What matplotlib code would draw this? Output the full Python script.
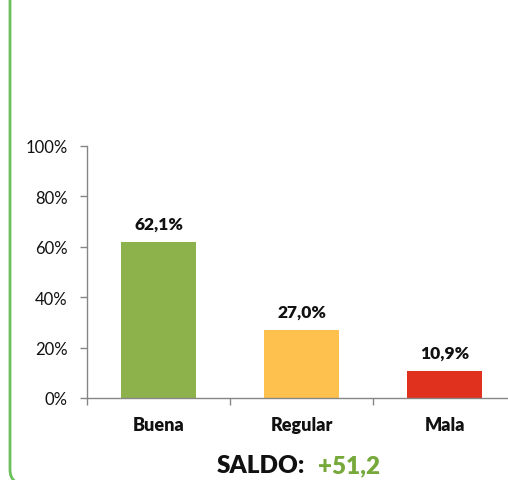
import matplotlib.pyplot as plt
from matplotlib.patches import FancyBboxPatch
from matplotlib.ticker import FixedLocator

plt.rcParams['font.family'] = ['Lato', 'DejaVu Sans']

categorias = ['Buena', 'Regular', 'Mala']
valores = [62.1, 27.0, 10.9]
etiquetas = ['62,1%', '27,0%', '10,9%']
colores = ['#8DB24B', '#FFC14D', '#E0301E']
y_ticks = [0, 20, 40, 60, 80, 100]
saldo = '+51,2'

fig = plt.figure(figsize=(5.08, 4.81), dpi=100)

# marco verde redondeado (recortado por el borde)
marco = FancyBboxPatch((10 / 508, -4 / 481), 600 / 508, 560 / 481,
                       boxstyle='round,pad=0,rounding_size=0.03',
                       transform=fig.transFigure, fill=False,
                       edgecolor='#6DBF5B', linewidth=2.0, clip_on=False)
fig.patches.append(marco)

ax = fig.add_axes([87 / 508, 1 - 399 / 481, (508 - 87) / 508, 252 / 481])
x = range(len(categorias))
ax.bar(x, valores, width=0.53, color=colores)
for i, v in enumerate(valores):
    ax.text(i, v + 4, etiquetas[i], ha='center', va='bottom',
            fontsize=12.5, fontweight='heavy', color='#111111')

ax.set_xlim(-0.5, 2.444)
ax.set_ylim(0, 100)
ax.set_yticks(y_ticks)
ax.set_yticklabels([f'{t}%' for t in y_ticks], fontsize=12, color='#111111')
ax.set_xticks(list(x))
ax.set_xticklabels(categorias, fontsize=13, fontweight='heavy', color='#111111')
ax.tick_params(axis='x', length=0, pad=13)
ax.xaxis.set_minor_locator(FixedLocator([-0.5, 0.5, 1.5]))
ax.tick_params(axis='x', which='minor', length=5, color='#868686', width=1)
ax.tick_params(axis='y', length=5, color='#868686', width=1, pad=9)

for s in ['top', 'right']:
    ax.spines[s].set_visible(False)
for s in ['left', 'bottom']:
    ax.spines[s].set_color('#868686')
    ax.spines[s].set_linewidth(1)

fig.text(305 / 508, 1 - 466 / 481, 'SALDO:', ha='right', va='center',
         fontsize=17.5, fontweight='heavy', color='#111111')
fig.text(318 / 508, 1 - 466 / 481, saldo, ha='left', va='center',
         fontsize=17.5, fontweight='heavy', color='#76A93A')

fig.savefig('out.png', dpi=100)
